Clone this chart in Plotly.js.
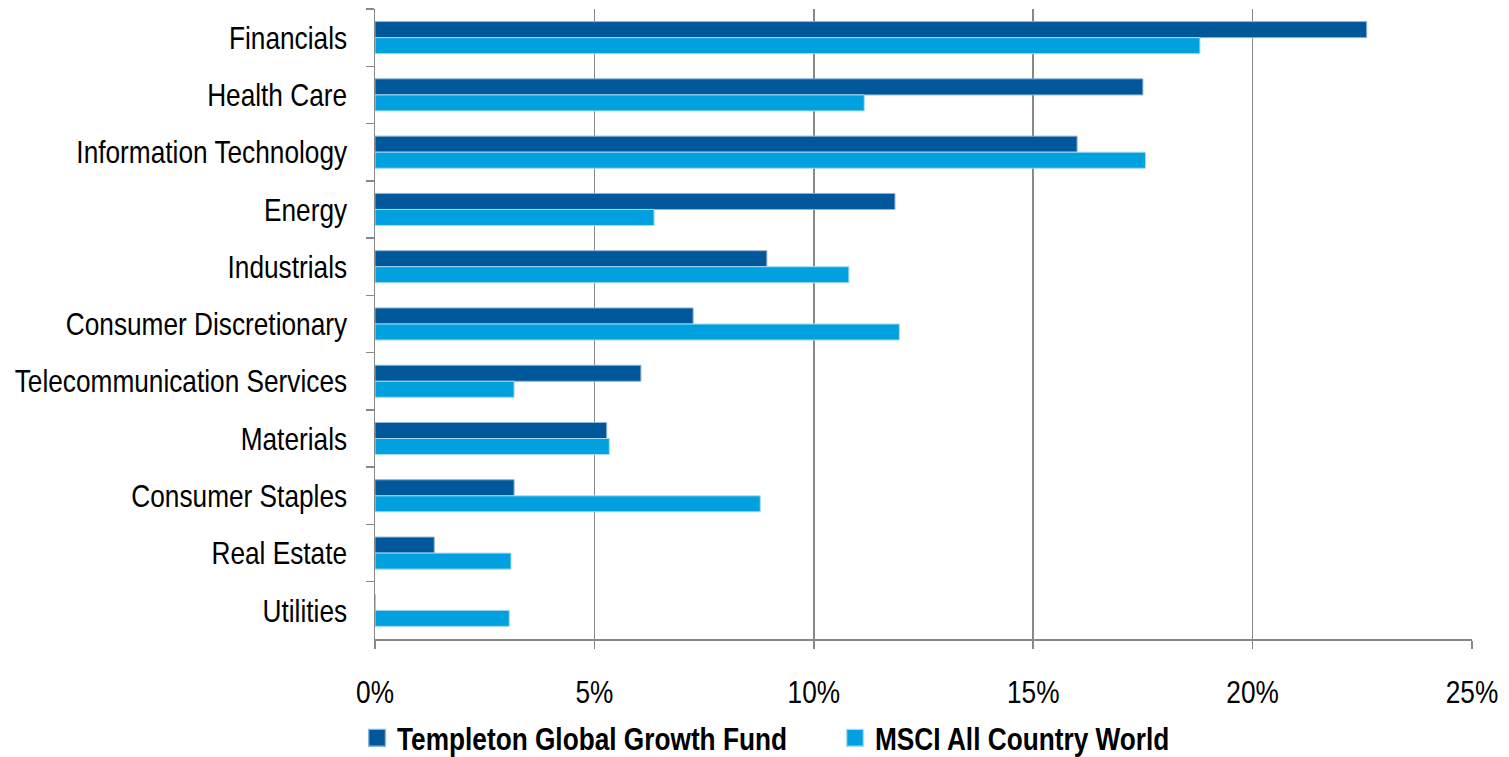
<!DOCTYPE html>
<html>
<head>
<meta charset="utf-8">
<script src="https://cdn.plot.ly/plotly-3.0.1.min.js"></script>
<style>html,body{margin:0;padding:0;background:#fff;}#chart{width:1509px;height:757px;}</style>
</head>
<body>
<div id="chart"></div>
<script>
const categories = ["Financials","Health Care","Information Technology","Energy","Industrials","Consumer Discretionary","Telecommunication Services","Materials","Consumer Staples","Real Estate","Utilities"];
const fundValues = [22.6, 17.5, 16.0, 11.85, 8.93, 7.25, 6.06, 5.28, 3.17, 1.35, 0];
const indexValues = [18.8, 11.15, 17.56, 6.36, 10.8, 11.95, 3.17, 5.34, 8.78, 3.1, 3.06];
const seriesNames = ["Templeton Global Growth Fund", "MSCI All Country World"];
const xTicks = [0, 5, 10, 15, 20, 25];
const xTickLabels = ["0%", "5%", "10%", "15%", "20%", "25%"];

const FONT = '"Liberation Sans", Arial, sans-serif';
const NARROW = 0.82; // emulate Arial Narrow by horizontal condensing of real text

const traces = [
  {type: 'bar', orientation: 'h', name: seriesNames[0], y: categories, x: fundValues,
   marker: {color: '#00589B', line: {color: '#8fb3d6', width: 1}}},
  {type: 'bar', orientation: 'h', name: seriesNames[1], y: categories, x: indexValues,
   marker: {color: '#00A1DE', line: {color: '#a8dcf2', width: 1}}}
];

const layout = {
  width: 1509, height: 757,
  margin: {l: 375, r: 37, t: 9, b: 118, autoexpand: false},
  paper_bgcolor: '#fff', plot_bgcolor: '#fff',
  barmode: 'group', bargap: 0.44, bargroupgap: 0,
  font: {family: FONT, size: 32, color: '#000'},
  showlegend: true,
  legend: {orientation: 'h', x: 0.2366, xanchor: 'left', xref: 'container',
    y: 0.0251, yanchor: 'middle', yref: 'container',
    font: {family: FONT, size: 32, color: '#000', weight: 'bold'},
    entrywidth: 433, entrywidthmode: 'pixels', traceorder: 'normal'},
  xaxis: {range: [0, 25], tickvals: xTicks, ticktext: xTickLabels,
    showgrid: true, gridcolor: '#888', gridwidth: 1.5, zeroline: false,
    showline: true, linecolor: '#888', linewidth: 1.5,
    ticks: 'outside', ticklen: 8, tickcolor: '#888', tickwidth: 1.5,
    ticklabelstandoff: 16, tickfont: {family: FONT, size: 32, color: '#000'}, fixedrange: true},
  yaxis: {type: 'category', autorange: 'reversed', tickson: 'boundaries',
    showline: true, linecolor: '#888', linewidth: 1.5, showgrid: false,
    ticks: 'outside', ticklen: 8, tickcolor: '#888', tickwidth: 1.5,
    ticklabelstandoff: 20, tickfont: {family: FONT, size: 32, color: '#000'}, fixedrange: true}
};

Plotly.newPlot('chart', traces, layout, {displayModeBar: false, staticPlot: true}).then(function (gd) {
  // condense every text horizontally around its anchor x
  gd.querySelectorAll('svg.main-svg text').forEach(function (t) {
    const x = parseFloat(t.getAttribute('x')) || 0;
    const tr = t.getAttribute('transform') || '';
    t.setAttribute('transform', tr + ' translate(' + x + ',0) scale(' + NARROW + ',1) translate(' + (-x) + ',0)');
  });
  // larger legend squares
  gd.querySelectorAll('.legendpoints path').forEach(function (p) {
    const tr = p.getAttribute('transform') || '';
    p.setAttribute('transform', tr + ' scale(1.4)');
  });
});
</script>
</body>
</html>
